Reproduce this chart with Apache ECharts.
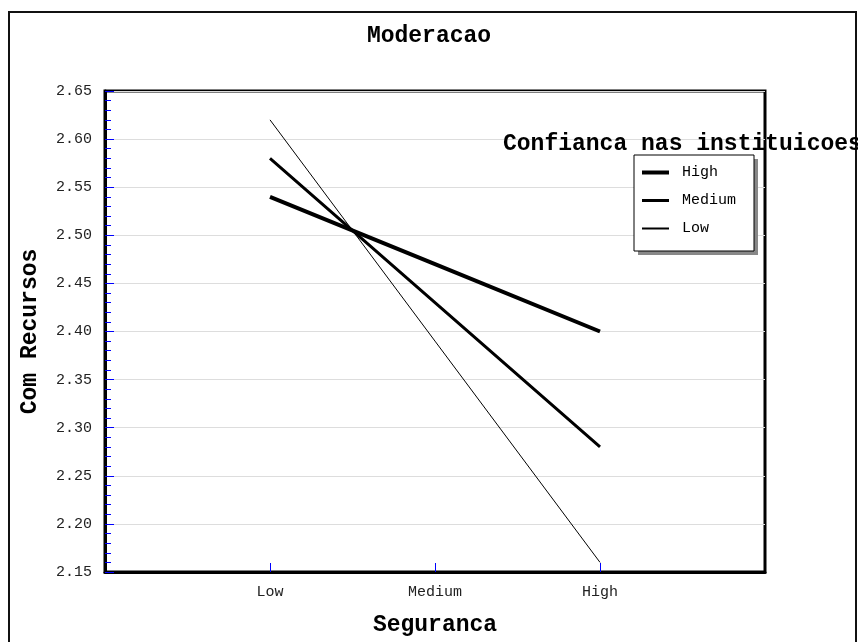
<!DOCTYPE html>
<html>
<head>
<meta charset="utf-8">
<script src="https://cdn.jsdelivr.net/npm/echarts@6/dist/echarts.min.js"></script>
<style>html,body{margin:0;padding:0;background:#fff}#chart{width:858px;height:642px}</style>
</head>
<body>
<div id="chart"></div>
<script>
// categories (blank padding slots keep the reference's spacing)
const categories = ['', 'Low', 'Medium', 'High', ''];
const seriesNames = ['High', 'Medium', 'Low'];
const highValues = [null, 2.54, 2.47, 2.40, null];
const mediumValues = [null, 2.58, 2.43, 2.28, null];
const lowValues = [null, 2.62, 2.39, 2.16, null];
const yTicks = [2.15, 2.20, 2.25, 2.30, 2.35, 2.40, 2.45, 2.50, 2.55, 2.60, 2.65];

const boldFont = 'Liberation Mono';
const chart = echarts.init(document.getElementById('chart'));
const lineWidths = [4, 3, 1];
const legendIcons = ['path://M0,0H27V4H0Z', 'path://M0,0H27V3H0Z', 'path://M0,0H27V2H0Z'];
const allValues = [highValues, mediumValues, lowValues];
const yMin = yTicks[0], yMax = yTicks[yTicks.length - 1];

chart.setOption({
  animation: false,
  backgroundColor: '#fff',
  title: [
    { text: 'Moderacao', left: 'center', top: 20,
      textStyle: { fontFamily: boldFont, fontWeight: 'bold', fontSize: 23, color: '#000' } },
    { text: 'Confianca nas instituicoes', left: 498, top: 128,
      textStyle: { fontFamily: boldFont, fontWeight: 'bold', fontSize: 23, color: '#000' } }
  ],
  graphic: [{
    type: 'rect', silent: true, z: -1,
    shape: { x: 9, y: 12, width: 847, height: 700 },
    style: { fill: 'none', stroke: '#111', lineWidth: 2 }
  }, {
    // legend drop shadow
    type: 'rect', silent: true, z: 3,
    shape: { x: 638, y: 159, width: 120, height: 96 },
    style: { fill: '#888', stroke: 'none' }
  }],
  grid: { left: 105, top: 91, right: 93, bottom: 69, show: true,
    borderColor: '#000', borderWidth: 3, backgroundColor: 'transparent' },
  legend: {
    orient: 'vertical', left: 634, top: 155, z: 5,
    data: seriesNames.map((n, i) => ({ name: n, icon: legendIcons[i] })),
    itemWidth: 27, itemHeight: 14, itemGap: 13,
    padding: [10, 18, 15, 8],
    backgroundColor: '#fff', borderColor: '#000', borderWidth: 1,
    textStyle: { fontFamily: boldFont, fontSize: 15, color: '#000', padding: [0, 0, 0, 8] }
  },
  xAxis: {
    type: 'category', data: categories, boundaryGap: false,
    name: 'Seguranca', nameLocation: 'middle', nameGap: 42,
    nameTextStyle: { fontFamily: boldFont, fontWeight: 'bold', fontSize: 23, color: '#000' },
    axisLine: { show: true, lineStyle: { color: '#000', width: 3 } },
    axisTick: { show: true, inside: true, length: 9, alignWithLabel: true,
      interval: (i, v) => v !== '', lineStyle: { color: '#0000ff', width: 1 } },
    axisLabel: { interval: 0, margin: 13, fontFamily: boldFont, fontSize: 15, color: '#222' },
    splitLine: { show: false }
  },
  yAxis: [{
    type: 'value', min: yMin, max: yMax, interval: 0.05,
    name: 'Com Recursos', nameLocation: 'middle', nameGap: 63,
    nameTextStyle: { fontFamily: boldFont, fontWeight: 'bold', fontSize: 23, color: '#000' },
    axisLine: { show: true, lineStyle: { color: '#000', width: 3 } },
    axisTick: { show: true, inside: true, length: 9, lineStyle: { color: '#0000ff', width: 1 } },
    axisLabel: { margin: 13, fontFamily: boldFont, fontSize: 15, color: '#222',
      formatter: v => v.toFixed(2) },
    splitLine: { show: true, lineStyle: { color: '#dddddd', width: 1 } }
  }, {
    // minor ticks every 0.01
    type: 'value', min: yMin, max: yMax, interval: 0.01, position: 'left',
    axisLine: { show: false },
    axisTick: { show: true, inside: true, length: 6, lineStyle: { color: '#0000ff', width: 1 } },
    axisLabel: { show: false },
    splitLine: { show: false }
  }],
  series: seriesNames.map((n, i) => ({
    name: n, type: 'line', data: allValues[i], symbol: 'none', yAxisIndex: 0,
    color: '#000', lineStyle: { color: '#000', width: lineWidths[i] }
  }))
});
</script>
</body>
</html>
